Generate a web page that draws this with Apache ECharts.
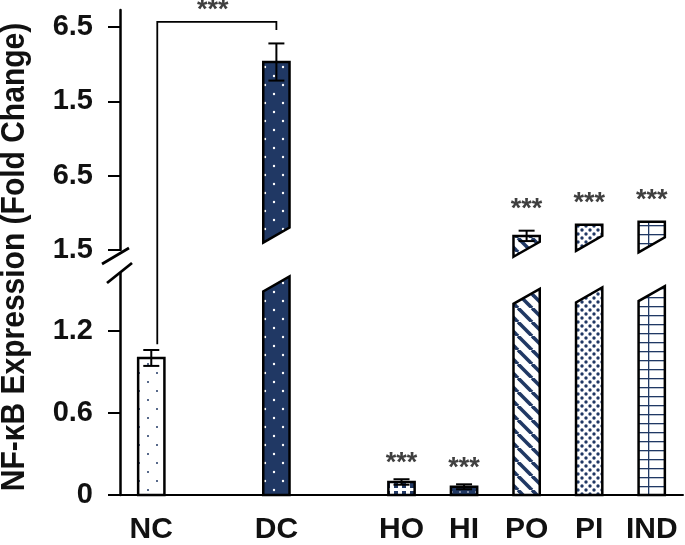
<!DOCTYPE html>
<html><head><meta charset="utf-8">
<script src="https://cdn.jsdelivr.net/npm/echarts@6/dist/echarts.min.js"></script>
<style>html,body{margin:0;padding:0;background:#fff}#c{width:685px;height:545px}</style>
</head><body><div id="c"></div>
<script>
// ---- data ----
const categories = ['NC', '', 'DC', '', 'HO', 'HI', 'PO', 'PI', 'IND'];
// lower panel (0 - 1.6): bar height, or the level of the break for broken bars
const lowerValues = [1.00, null, 1.54, null, 0.095, 0.06, 1.45, 1.46, 1.47];
const brokenBars  = [0, null, 1, null, 0, 0, 1, 1, 1];
const lowerErrors = [0.058, null, 0, null, 0.02, 0.018, 0, 0, 0];
// upper panel (axis units of the upper segment)
const upperTops   = [null, null, 2.53, null, null, null, 0.19, 0.34, 0.38];
const upperBases  = [null, null, 0.20, null, null, null, 0.01, 0.09, 0.07];
const upperErrors = [null, null, 0.25, null, null, null, 0.07, 0, 0];
const significance = ['', '', '', '', '***', '***', '***', '***', '***'];
const lowerTicks = [0, 0.6, 1.2];
const upperTicks = [0, 1, 2, 3];
const upperTickLabels = ['1.5', '6.5', '1.5', '6.5'];
const bracket = { from: 0, to: 2, fromValue: 1.10, topValue: 3.07, toValue: 2.96, label: '***' };
const yTitle = 'NF-\u03baB Expression (Fold Change)';

// ---- styles ----
const NAVY = '#203864';
const FONT = '"Liberation Sans", Arial, sans-serif';
const GRID_LEFT = 120, GRID_RIGHT = 2;
const BAR_RATIO = 0.42, SLANT = 15;

function makePattern(w, h, bg, draw) {
  const c = document.createElement('canvas');
  c.width = w; c.height = h;
  const ctx = c.getContext('2d');
  ctx.fillStyle = bg; ctx.fillRect(0, 0, w, h);
  draw(ctx);
  return { image: c, repeat: 'repeat' };
}
function dots(ctx, color, r, pts) {
  ctx.fillStyle = color;
  pts.forEach(p => { ctx.beginPath(); ctx.arc(p[0], p[1], r, 0, Math.PI * 2); ctx.fill(); });
}
const patterns = [
  makePattern(18, 18, '#fff', ctx => dots(ctx, NAVY, 1, [[4, 4], [13, 13]])),
  null,
  makePattern(18, 18, NAVY, ctx => dots(ctx, '#fff', 1.2, [[4, 4], [13, 13]])),
  null,
  makePattern(8, 8, '#fff', ctx => { ctx.fillStyle = NAVY; ctx.fillRect(2, 3, 4, 5); }),
  makePattern(8, 8, NAVY, ctx => dots(ctx, '#fff', 0.8, [[4, 4]])),
  makePattern(14, 14, '#fff', ctx => {
    ctx.strokeStyle = NAVY; ctx.lineWidth = 3.6;
    [-14, 0, 14].forEach(k => { ctx.beginPath(); ctx.moveTo(k, 0); ctx.lineTo(k + 14, 14); ctx.stroke(); });
  }),
  makePattern(8, 8, '#fff', ctx => dots(ctx, NAVY, 1.7, [[2, 2], [6, 6]])),
  makePattern(18, 9, '#fff', ctx => {
    ctx.fillStyle = NAVY; ctx.fillRect(0, 0, 18, 1.3); ctx.fillRect(0, 0, 1.3, 9);
  })
];

function errorBar(x, yHi, yLo) {
  const cw = 8;
  return {
    type: 'group',
    children: [
      { type: 'line', shape: { x1: x, y1: yHi, x2: x, y2: yLo }, style: { stroke: '#000', lineWidth: 2 } },
      { type: 'line', shape: { x1: x - cw, y1: yHi, x2: x + cw, y2: yHi }, style: { stroke: '#000', lineWidth: 2 } },
      { type: 'line', shape: { x1: x - cw, y1: yLo, x2: x + cw, y2: yLo }, style: { stroke: '#000', lineWidth: 2 } }
    ]
  };
}
function starText(x, yCenter, text) {
  return { type: 'text', x: x, y: yCenter + 6,
    style: { text: text, font: 'bold 27px ' + FONT, fill: '#404040', align: 'center', verticalAlign: 'middle' } };
}

function renderLower(params, api) {
  const i = api.value(0), v = api.value(1), broken = api.value(2), err = api.value(3);
  const base = api.coord([i, 0]);
  const top = api.coord([i, v]);
  const w = api.size([1, 0])[0] * BAR_RATIO;
  const x0 = base[0] - w / 2, x1 = base[0] + w / 2;
  const style = { fill: patterns[i], stroke: '#000', lineWidth: 2.5, lineJoin: 'miter' };
  const children = [];
  if (broken) {
    children.push({ type: 'polygon', shape: { points: [[x0, base[1]], [x1, base[1]], [x1, top[1] - SLANT / 2], [x0, top[1] + SLANT / 2]] }, style: style });
  } else {
    children.push({ type: 'rect', shape: { x: x0, y: top[1], width: w, height: base[1] - top[1] }, style: style });
  }
  let sigY = top[1];
  if (err > 0) {
    const hi = api.coord([i, v + err])[1], lo = api.coord([i, v - err])[1];
    children.push(errorBar(base[0], hi, lo));
    sigY = hi;
  }
  if (!broken && significance[i]) children.push(starText(base[0], sigY - 22, significance[i]));
  return { type: 'group', children: children };
}

function renderUpper(params, api) {
  const i = api.value(0), t = api.value(1), b = api.value(2), err = api.value(3);
  const topP = api.coord([i, t]);
  const baseP = api.coord([i, b]);
  const w = api.size([1, 0])[0] * BAR_RATIO;
  const x0 = topP[0] - w / 2, x1 = topP[0] + w / 2;
  const children = [{
    type: 'polygon',
    shape: { points: [[x0, baseP[1] + SLANT / 2], [x1, baseP[1] - SLANT / 2], [x1, topP[1]], [x0, topP[1]]] },
    style: { fill: patterns[i], stroke: '#000', lineWidth: 2.5, lineJoin: 'miter' }
  }];
  let sigY = topP[1];
  if (err > 0) {
    const hi = api.coord([i, t + err])[1], lo = api.coord([i, t - err])[1];
    children.push(errorBar(topP[0], hi, lo));
    sigY = hi;
  }
  if (significance[i]) children.push(starText(topP[0], sigY - 27, significance[i]));
  return { type: 'group', children: children };
}

const lowerData = [], upperData = [];
categories.forEach((c, i) => {
  if (lowerValues[i] != null) lowerData.push([i, lowerValues[i], brokenBars[i], lowerErrors[i] || 0]);
  if (upperTops[i] != null) upperData.push([i, upperTops[i], upperBases[i], upperErrors[i] || 0]);
});

const yAxisCommon = {
  type: 'value',
  axisLine: { show: true, lineStyle: { color: '#000', width: 2.5 } },
  axisTick: { show: true, inside: false, length: 12, lineStyle: { color: '#000', width: 2 } },
  splitLine: { show: false },
  axisLabel: { color: '#111', fontFamily: FONT, fontWeight: 'bold', fontSize: 29, margin: 27 }
};

const chart = echarts.init(document.getElementById('c'), null, { renderer: 'canvas' });
chart.setOption({
  backgroundColor: '#fff',
  animation: false,
  grid: [
    { left: GRID_LEFT, right: GRID_RIGHT, top: 10, height: 240 },
    { left: GRID_LEFT, right: GRID_RIGHT, top: 273, height: 224 }
  ],
  xAxis: [
    { type: 'category', gridIndex: 0, data: categories, show: false },
    { type: 'category', gridIndex: 1, data: categories,
      axisLine: { show: true, lineStyle: { color: '#000', width: 2 } },
      axisTick: { show: false },
      axisLabel: { interval: 0, color: '#111', fontFamily: FONT, fontWeight: 'bold', fontSize: 30, margin: 20 } }
  ],
  yAxis: [
    Object.assign({}, yAxisCommon, { gridIndex: 0, min: 0, max: 3.23,
      axisTick: Object.assign({}, yAxisCommon.axisTick, { customValues: upperTicks }),
      axisLabel: Object.assign({}, yAxisCommon.axisLabel, { customValues: upperTicks,
        formatter: v => upperTickLabels[Math.round(v)] }) }),
    Object.assign({}, yAxisCommon, { gridIndex: 1, min: 0, max: 1.62,
      axisTick: Object.assign({}, yAxisCommon.axisTick, { customValues: lowerTicks }),
      axisLabel: Object.assign({}, yAxisCommon.axisLabel, { customValues: lowerTicks,
        formatter: v => String(v) }) })
  ],
  series: [
    { type: 'custom', xAxisIndex: 0, yAxisIndex: 0, data: upperData, renderItem: renderUpper, clip: false, z: 3 },
    { type: 'custom', xAxisIndex: 1, yAxisIndex: 1, data: lowerData, renderItem: renderLower, clip: false, z: 3 }
  ]
});

// annotations: bracket, axis break marks, y title
const pFrom = chart.convertToPixel({ xAxisIndex: 1, yAxisIndex: 1 }, [bracket.from, bracket.fromValue]);
const pTop = chart.convertToPixel({ xAxisIndex: 0, yAxisIndex: 0 }, [bracket.from, bracket.topValue]);
const pTo = chart.convertToPixel({ xAxisIndex: 0, yAxisIndex: 0 }, [bracket.to, bracket.toValue]);
const lx = pFrom[0] + 6;
const upperBottom = chart.convertToPixel({ yAxisIndex: 0 }, 0);
const lowerTop = chart.convertToPixel({ yAxisIndex: 1 }, 1.62);
chart.setOption({
  graphic: [
    { type: 'polyline', z: 10, shape: { points: [[lx, pFrom[1]], [lx, pTop[1]], [pTo[0], pTop[1]], [pTo[0], pTo[1]]] },
      style: { stroke: '#000', lineWidth: 1.8, fill: null } },
    { type: 'text', z: 10, x: (lx + pTo[0]) / 2 - 4, y: pTop[1] - 16 + 5,
      style: { text: bracket.label, font: 'bold 27px ' + FONT, fill: '#404040', align: 'center', verticalAlign: 'middle' } },
    { type: 'rect', z: 9, shape: { x: GRID_LEFT - 4, y: upperBottom + 1, width: 8, height: lowerTop - upperBottom - 2 },
      style: { fill: '#fff' } },
    { type: 'line', z: 10, shape: { x1: GRID_LEFT - 18, y1: upperBottom + 14, x2: GRID_LEFT + 9, y2: upperBottom - 2 },
      style: { stroke: '#000', lineWidth: 2.8 } },
    { type: 'line', z: 10, shape: { x1: GRID_LEFT - 13, y1: upperBottom + 33, x2: GRID_LEFT + 12, y2: upperBottom + 13 },
      style: { stroke: '#000', lineWidth: 2.8 } },
    { type: 'text', z: 10, x: 15, y: 257, rotation: Math.PI / 2, scaleY: 1.12,
      style: { text: yTitle, font: 'bold 30px ' + FONT, fill: '#111', align: 'center', verticalAlign: 'middle' } }
  ]
});
</script></body></html>
